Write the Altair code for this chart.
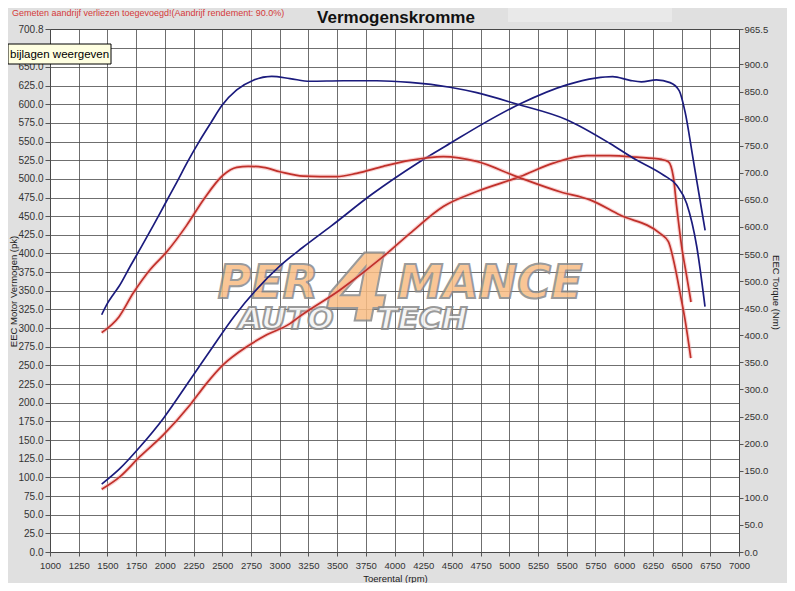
import altair as alt
import pandas as pd

# tuned run (blue) and stock run (red)
rpm_power_tuned = [1450, 1610, 1784, 1987, 2219, 2400, 2600, 2800, 3000, 3200, 3450, 3800, 4200,
                   4500, 4750, 5100, 5500, 5750, 5900, 6050, 6150, 6280, 6400, 6480, 6530, 6600,
                   6660, 6705]
power_tuned = [91, 112, 141, 179, 230.5, 271, 315, 352, 383, 408, 437, 479, 521,
               549, 572, 601, 626, 635, 637, 632, 630, 632.5, 629, 618, 590, 527,
               472, 431]

rpm_torque_tuned = [1450, 1500, 1550, 1600, 1700, 1800, 1900, 2000, 2100, 2200, 2300, 2400, 2500,
                    2626, 2771, 2931, 3090, 3264, 3554, 3845, 4135, 4483, 4716, 5064, 5500,
                    5877, 6080, 6341, 6457, 6545, 6632, 6704]
torque_tuned = [438, 459, 475, 490, 528, 565, 603, 642, 681, 721, 758, 792, 825,
                853, 871, 878, 874, 869, 870, 870, 867, 858, 848, 827, 798,
                754, 727, 696, 677, 643, 564, 453]

rpm_power_stock = [1450, 1610, 1784, 1987, 2219, 2364, 2509, 2713, 2887, 3090, 3160, 3525, 3903,
                   4135, 4425, 4716, 5093, 5383, 5674, 5877, 6109, 6327, 6385, 6428, 6457,
                   6501, 6545, 6582]
power_stock = [84, 101, 128, 157, 197, 226, 251, 275, 291, 306, 314, 351, 396,
               427, 463, 483, 503, 521, 531, 531, 529, 526, 523, 503, 463,
               409, 369, 335]

rpm_torque_stock = [1450, 1600, 1725, 1871, 2016, 2190, 2335, 2509, 2626, 2727, 2858, 3003, 3206,
                    3497, 3671, 3903, 4135, 4425, 4716, 5064, 5441, 5703, 5964, 6312, 6385,
                    6443, 6487, 6530, 6580]
torque_stock = [405, 434, 478, 521, 554, 603, 650, 696, 710, 712, 710, 702, 694,
                693, 699, 712, 723, 730, 721, 693, 665, 650, 622, 588, 573,
                526, 478, 429, 358]

rpm_ticks = list(range(1000, 7001, 250))
power_ticks = [v * 25 for v in range(28)] + [700.8]
torque_ticks = [v * 50 for v in range(19)] + [965.5]

BLUE = '#1b1b7d'
RED = '#c0302a'
FONT = 'Liberation Sans'


def frame(rpm, vals, name):
    return pd.DataFrame({'rpm': rpm, 'val': vals, 'curve': name})


power_df = pd.concat([frame(rpm_power_tuned, power_tuned, 'tuned'),
                      frame(rpm_power_stock, power_stock, 'stock')])
torque_df = pd.concat([frame(rpm_torque_tuned, torque_tuned, 'tuned'),
                       frame(rpm_torque_stock, torque_stock, 'stock')])

colour = alt.Color('curve:N', scale=alt.Scale(domain=['tuned', 'stock'], range=[BLUE, RED]), legend=None)

x_enc = alt.X('rpm:Q', scale=alt.Scale(domain=[1000, 7000], nice=False, zero=False),
              title='Toerental (rpm)',
              axis=alt.Axis(values=rpm_ticks, format='d', labelFlush=False, labelOverlap=False,
                            grid=True, tickSize=4, labelPadding=4, labelFontSize=9.5,
                            titleX=345, titleY=26, titleBaseline='middle', titleAlign='center'))
# the 675 label sits under the tooltip in the original, so leave it blank
p_enc = alt.Y('val:Q', scale=alt.Scale(domain=[0, 700.8], nice=False), title='EEC Motor Vermogen (pk)',
              axis=alt.Axis(values=power_ticks, labelExpr="datum.value == 675 ? '' : format(datum.value, '.1f')",
                            labelFlush=False, labelOverlap=False,
                            grid=True, tickSize=5, labelPadding=2, labelFontSize=10,
                            titleX=-37, titleY=262, titleAlign='center', titleBaseline='middle'))
t_enc = alt.Y('val:Q', scale=alt.Scale(domain=[0, 965.5], nice=False), title='EEC Torque (Nm)',
              axis=alt.Axis(orient='right', values=torque_ticks, format='.1f', labelFlush=False,
                            labelOverlap=False, grid=False, tickSize=4, labelPadding=1,
                            labelFontSize=9.5, titleX=36, titleY=263, titleAlign='center',
                            titleBaseline='middle'))


def curves(df, y_enc):
    # soft pink glow under the red run, then the lines themselves
    glow = alt.Chart(df).transform_filter(alt.datum.curve == 'stock').mark_line(
        color='#f29a9a', strokeWidth=4, opacity=0.45, interpolate='monotone'
    ).encode(x=x_enc, y=y_enc)
    lines = alt.Chart(df).mark_line(strokeWidth=1.7, interpolate='monotone').encode(
        x=x_enc, y=y_enc, color=colour, detail='curve:N')
    return alt.layer(glow, lines)


power_group = curves(power_df, p_enc)
torque_group = curves(torque_df, t_enc)

one = pd.DataFrame({'t': ['']})


def word(txt, x, y, size, fill):
    return alt.Chart(one).mark_text(
        text=txt, font='DejaVu Sans', fontWeight='bold', fontStyle='italic', fontSize=size,
        fill=fill, stroke='#8a8a8a', strokeWidth=2, opacity=0.85, align='center', baseline='middle'
    ).encode(x=alt.value(x), y=alt.value(y))


logo = alt.layer(
    word('PER', 218, 255, 46, '#f9bd84'),
    word('4', 309, 263, 92, '#f9bd84'),
    word('MANCE', 440, 255, 46, '#f9bd84'),
    word('AUTO', 236, 291, 31, '#f4f4f4'),
    word('TECH', 372, 291, 31, '#f4f4f4'),
)

top_box = alt.Chart(one).mark_rect(fill='#e9e9e9').encode(
    x=alt.value(458), x2=alt.value(622), y=alt.value(-21), y2=alt.value(-7))

title = alt.Chart(one).mark_text(
    text='Vermogenskromme', font=FONT, fontSize=17, fontWeight='bold', color='#111111',
    align='center', baseline='middle'
).encode(x=alt.value(346), y=alt.value(-11))

note = alt.Chart(one).mark_text(
    text='Gemeten aandrijf verliezen toegevoegd!(Aandrijf rendement: 90.0%)', font=FONT,
    fontSize=9, color='#d43a3a', align='left', baseline='middle'
).encode(x=alt.value(-38), y=alt.value(-16))

tip_box = alt.Chart(one).mark_rect(fill='#ffffe1', stroke='#000000', strokeWidth=1).encode(
    x=alt.value(-42), x2=alt.value(61), y=alt.value(15), y2=alt.value(35))
tip_text = alt.Chart(one).mark_text(
    text='bijlagen weergeven', font=FONT, fontSize=11.5, color='#000000',
    align='left', baseline='middle'
).encode(x=alt.value(-40), y=alt.value(25.5))

chart = alt.layer(
    top_box, logo, power_group, torque_group, tip_box, tip_text, note, title
).resolve_scale(
    y='independent'
).properties(
    width=689, height=523,
    padding={'left': 42, 'top': 21, 'right': 48, 'bottom': 31},
    autosize=alt.AutoSizeParams(type='none'),
    background='#e0e0e0'
).configure_view(
    fill='white', stroke='#444444', strokeWidth=1
).configure_axis(
    labelFont=FONT, labelColor='#333333', titleFont=FONT, titleFontSize=9.5,
    titleFontWeight='normal', titleColor='#222222', domain=False, tickColor='#555555',
    gridColor='#4a4a4a', gridWidth=0.8, gridOpacity=1
)

chart.save('out.html', embed_options={'renderer': 'svg', 'actions': False})
